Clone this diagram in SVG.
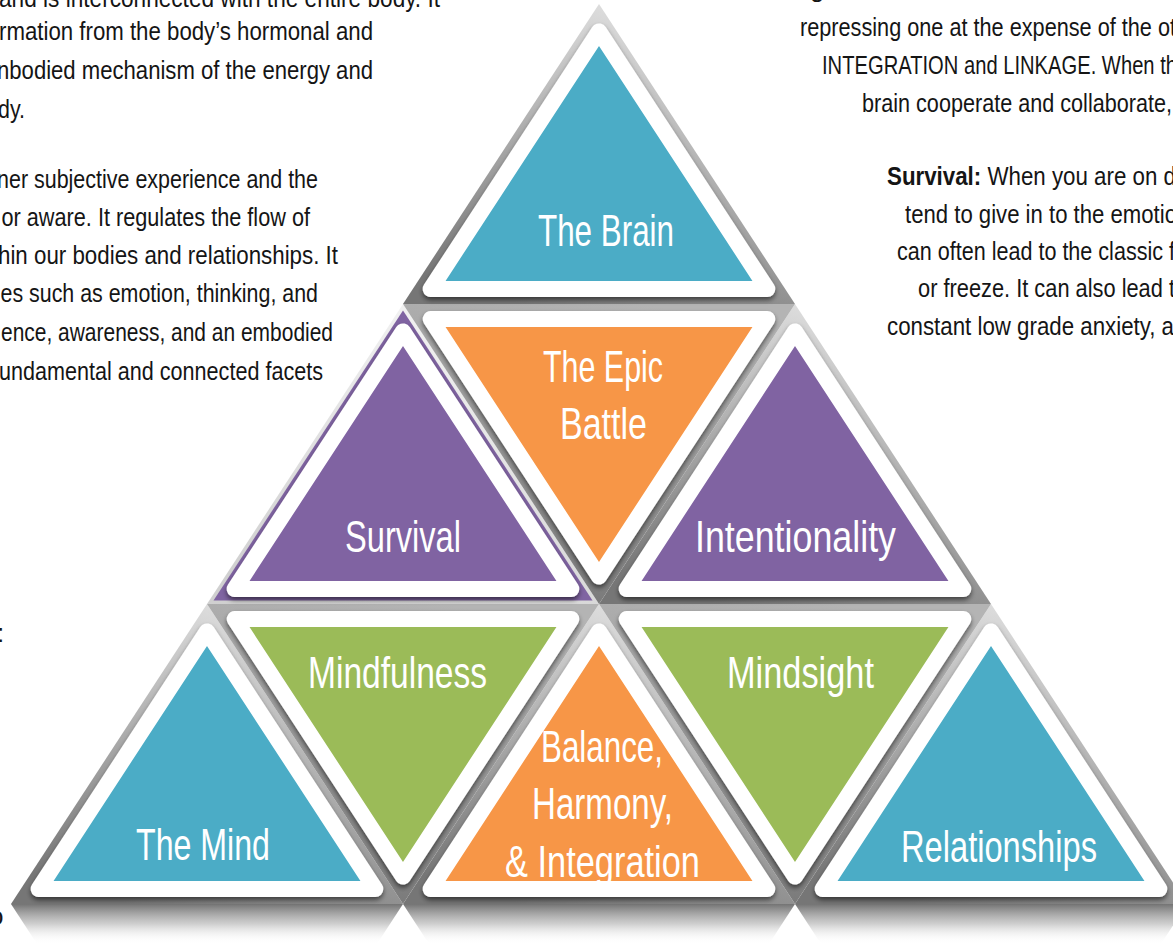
<svg xmlns="http://www.w3.org/2000/svg" width="1173" height="946" viewBox="0 0 1173 946">
  <defs>
    <style>
      .body { font-family: "Liberation Sans", Arial, sans-serif; font-size: 26px; fill: #151515; }
      .lbl { font-family: "Liberation Sans", Arial, sans-serif; font-size: 44px; fill: #ffffff; text-anchor: middle; }
      .cell { stroke: #ffffff; stroke-width: 16; stroke-linejoin: round; filter: url(#drop); }
      .blue { fill: #4bacc6; }
      .purple { fill: #8064a2; }
      .green { fill: #9bbb59; }
      .orange { fill: #f79646; }
      .bev-up { fill: url(#bevUp); }
      .bev-down { fill: url(#bevDown); }
    </style>
    <linearGradient id="bevUp" x1="0.7" y1="0" x2="0.3" y2="1">
      <stop offset="0" stop-color="#e4e4e4"/>
      <stop offset="0.55" stop-color="#a8a8a8"/>
      <stop offset="1" stop-color="#767676"/>
    </linearGradient>
    <linearGradient id="bevDown" x1="0.6" y1="0" x2="0.4" y2="1">
      <stop offset="0" stop-color="#b4b4b4"/>
      <stop offset="1" stop-color="#7a7a7a"/>
    </linearGradient>
    <linearGradient id="bevLight" x1="0.7" y1="0" x2="0.3" y2="1">
      <stop offset="0" stop-color="#f4f4f4"/>
      <stop offset="1" stop-color="#d0d0d0"/>
    </linearGradient>
    <linearGradient id="mirror" gradientUnits="userSpaceOnUse" x1="0" y1="904" x2="0" y2="944">
      <stop offset="0" stop-color="#6c6c6c" stop-opacity="0.95"/>
      <stop offset="0.5" stop-color="#a8a8a8" stop-opacity="0.55"/>
      <stop offset="1" stop-color="#ffffff" stop-opacity="0"/>
    </linearGradient>
    <filter id="drop" x="-10%" y="-10%" width="120%" height="130%">
      <feGaussianBlur in="SourceAlpha" stdDeviation="2.5"/>
      <feOffset dx="0" dy="3"/>
      <feComponentTransfer><feFuncA type="linear" slope="0.55"/></feComponentTransfer>
      <feMerge><feMergeNode/><feMergeNode in="SourceGraphic"/></feMerge>
    </filter>
  </defs>

  <rect width="1173" height="946" fill="#ffffff"/>

  <!-- body copy, left column (runs off the left edge) -->
  <g id="text-left" class="body">
    <text x="-1" y="7" textLength="441" lengthAdjust="spacingAndGlyphs">and is interconnected with the entire body. It</text>
    <text x="-1" y="40" textLength="374" lengthAdjust="spacingAndGlyphs">rmation from the body’s hormonal and</text>
    <text x="-3" y="79" textLength="376" lengthAdjust="spacingAndGlyphs">nbodied mechanism of the energy and</text>
    <text x="-2" y="118" textLength="27" lengthAdjust="spacingAndGlyphs">dy.</text>
    <text x="-3" y="188" textLength="321" lengthAdjust="spacingAndGlyphs">ner subjective experience and the</text>
    <text x="1.5" y="226" textLength="308.5" lengthAdjust="spacingAndGlyphs">or aware. It regulates the flow of</text>
    <text x="-2" y="264" textLength="340" lengthAdjust="spacingAndGlyphs">hin our bodies and relationships. It</text>
    <text x="0.5" y="302" textLength="317.5" lengthAdjust="spacingAndGlyphs">es such as emotion, thinking, and</text>
    <text x="1" y="341" textLength="332" lengthAdjust="spacingAndGlyphs">ence, awareness, and an embodied</text>
    <text x="-1" y="380" textLength="324" lengthAdjust="spacingAndGlyphs">undamental and connected facets</text>
    <text x="-3" y="642">:</text>
    <text x="-11" y="925">o</text>
  </g>

  <!-- body copy, right column (runs off the right edge) -->
  <g id="text-right" class="body">
    <text x="810" y="-3">g</text>
    <text x="800" y="36" textLength="376" lengthAdjust="spacingAndGlyphs">repressing one at the expense of the ot</text>
    <text x="822" y="74" textLength="355" lengthAdjust="spacingAndGlyphs">INTEGRATION and LINKAGE. When th</text>
    <text x="862" y="112" textLength="310" lengthAdjust="spacingAndGlyphs">brain cooperate and collaborate,</text>
    <text x="887" y="185" textLength="289" lengthAdjust="spacingAndGlyphs"><tspan font-weight="bold">Survival:</tspan> When you are on d</text>
    <text x="905" y="223" textLength="272" lengthAdjust="spacingAndGlyphs">tend to give in to the emotio</text>
    <text x="897" y="260" textLength="278" lengthAdjust="spacingAndGlyphs">can often lead to the classic f</text>
    <text x="918" y="297" textLength="257" lengthAdjust="spacingAndGlyphs">or freeze. It can also lead t</text>
    <text x="887" y="335" textLength="287" lengthAdjust="spacingAndGlyphs">constant low grade anxiety, a</text>
  </g>

  <!-- mirrored fade under the base row -->
  <g id="reflection" fill="url(#mirror)">
    <polygon points="11,904 403,904 373,950 41,950"/>
    <polygon points="403,904 795,904 765,950 433,950"/>
    <polygon points="795,904 1187,904 1157,950 825,950"/>
  </g>

  <!-- grey bevel behind every cell of the pyramid -->
  <g id="bevel">
    <polygon class="bev-up" points="599,4 403,304 795,304"/>
    <polygon points="403,304 207,604 599,604" fill="url(#bevLight)"/>
    <polygon class="bev-up" points="795,304 599,604 991,604"/>
    <polygon class="bev-up" points="207,604 11,904 403,904"/>
    <polygon class="bev-up" points="599,604 403,904 795,904"/>
    <polygon class="bev-up" points="991,604 795,904 1187,904"/>
    <polygon class="bev-down" points="403,304 795,304 599,604"/>
    <polygon class="bev-down" points="207,604 599,604 403,904"/>
    <polygon class="bev-down" points="599,604 991,604 795,904"/>
  </g>

  <!-- row 1 -->
  <g id="node-brain">
    <polygon class="cell blue" points="599,31.4 430.7,289 767.3,289"/>
    <text class="lbl" x="606" y="246" textLength="136" lengthAdjust="spacingAndGlyphs">The Brain</text>
  </g>

  <!-- row 2 -->
  <g id="node-survival">
    <polygon class="purple" points="403,310.4 213.5,600.5 592.5,600.5"/>
    <polygon class="cell purple" points="403,331.4 234.7,589 571.3,589"/>
    <text class="lbl" x="403" y="552" textLength="116" lengthAdjust="spacingAndGlyphs">Survival</text>
  </g>
  <g id="node-epic-battle">
    <polygon class="cell orange" points="430.7,319 767.3,319 599,576.6"/>
    <text class="lbl" x="603" y="382" textLength="120" lengthAdjust="spacingAndGlyphs">The Epic</text>
    <text class="lbl" x="603.5" y="439" textLength="87" lengthAdjust="spacingAndGlyphs">Battle</text>
  </g>
  <g id="node-intentionality">
    <polygon class="cell purple" points="795,331.4 626.7,589 963.3,589"/>
    <text class="lbl" x="795.5" y="552" textLength="201" lengthAdjust="spacingAndGlyphs">Intentionality</text>
  </g>

  <!-- row 3 -->
  <g id="node-mind">
    <polygon class="cell blue" points="207,631.4 38.7,889 375.3,889"/>
    <text class="lbl" x="203" y="860" textLength="134" lengthAdjust="spacingAndGlyphs">The Mind</text>
  </g>
  <g id="node-mindfulness">
    <polygon class="cell green" points="234.7,619 571.3,619 403,876.6"/>
    <text class="lbl" x="397.5" y="688" textLength="179" lengthAdjust="spacingAndGlyphs">Mindfulness</text>
  </g>
  <g id="node-balance">
    <polygon class="cell orange" points="599,631.4 430.7,889 767.3,889"/>
    <text class="lbl" x="602" y="762" textLength="122" lengthAdjust="spacingAndGlyphs">Balance,</text>
    <text class="lbl" x="602.5" y="819" textLength="141" lengthAdjust="spacingAndGlyphs">Harmony,</text>
    <text class="lbl" x="602.5" y="877" textLength="195" lengthAdjust="spacingAndGlyphs">&amp; Integration</text>
  </g>
  <g id="node-mindsight">
    <polygon class="cell green" points="626.7,619 963.3,619 795,876.6"/>
    <text class="lbl" x="800.5" y="688" textLength="147" lengthAdjust="spacingAndGlyphs">Mindsight</text>
  </g>
  <g id="node-relationships">
    <polygon class="cell blue" points="991,631.4 822.7,889 1159.3,889"/>
    <text class="lbl" x="999" y="862" textLength="196" lengthAdjust="spacingAndGlyphs">Relationships</text>
  </g>

  <!-- the pyramid has no connector lines -->
  <g id="connectors"/>
</svg>
